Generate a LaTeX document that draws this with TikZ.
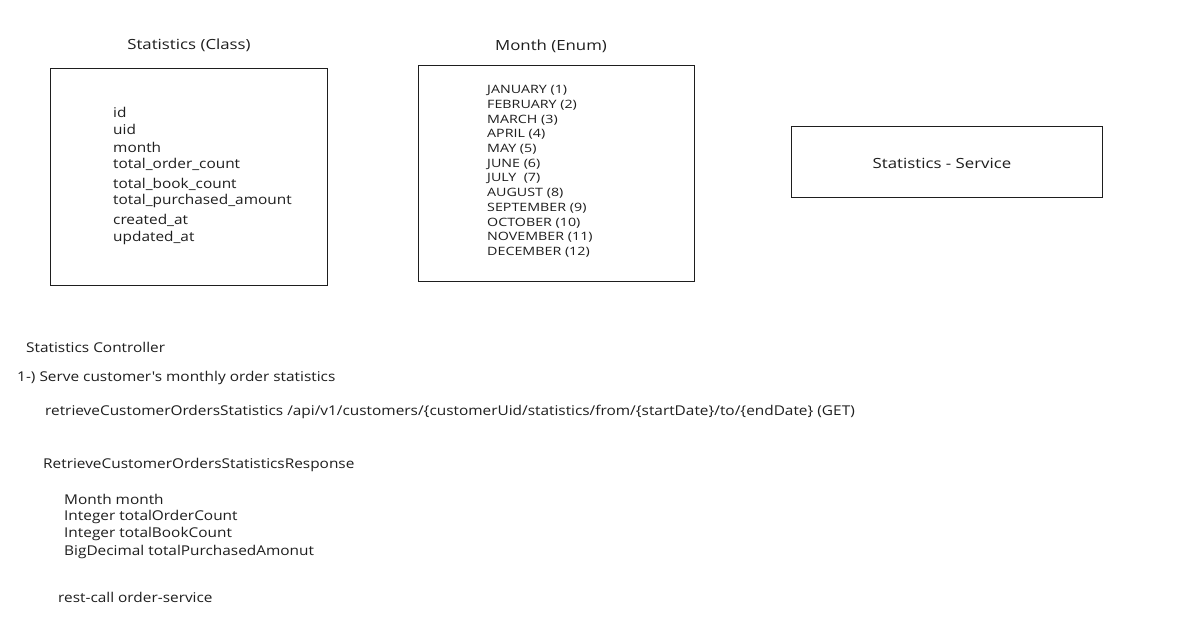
\documentclass[tikz,border=0pt]{standalone}
\usepackage{fontspec}
\setmainfont{Open Sans}
\newfontfamily\handA[FakeStretch=1.14]{Open Sans}
\newfontfamily\handB[FakeStretch=1.2]{Open Sans}
\newfontfamily\handC[FakeStretch=1.24]{Open Sans}
\definecolor{ink}{HTML}{1E1E1E}
\begin{document}
\begin{tikzpicture}[x=1pt,y=-1pt,
  box/.style={draw=ink,line width=0.9pt},
  txt/.style={anchor=west,inner sep=0pt,text=ink,font=\handA\fontsize{13.5}{15}\selectfont},
  small/.style={anchor=west,inner sep=0pt,text=ink,font=\handC\fontsize{11.5}{13}\selectfont},
  ttl/.style={inner sep=0pt,text=ink,font=\handB\fontsize{14}{16}\selectfont}]
\useasboundingbox (0,0) rectangle (1197,633);
\fill[white] (0,0) rectangle (1197,633);
% Statistics class
\node[ttl] (t1) at (189,45) {Statistics (Class)};
\draw[box] (50,68) rectangle (327,285);
\foreach \n/\y/\s in {f1/112/id,f2/129/uid,f3/147/month,f4/164/total\_order\_count,f5/184/total\_book\_count,f6/201/total\_purchased\_amount,f7/220/created\_at,f8/238/updated\_at}
  \node[txt] (\n) at (113,\y) {\s};
% Month enum
\node[ttl] (t2) at (551,46) {Month (Enum)};
\draw[box] (418,65) rectangle (694,281);
\foreach \n/\y/\s in {m1/90.5/JANUARY (1),m2/105.2/FEBRUARY (2),m3/119.9/MARCH (3),m4/134.6/APRIL (4),m5/149.3/MAY (5),m6/164/JUNE (6),m7/178.7/JULY\ \ (7),m8/193.4/AUGUST (8),m9/208.1/SEPTEMBER (9),m10/222.8/OCTOBER (10),m11/237.5/NOVEMBER (11),m12/252.2/DECEMBER (12)}
  \node[small] (\n) at (487,\y) {\s};
% Service
\draw[box] (791,126) rectangle (1102,197);
\node[ttl] (svc) at (942,163) {Statistics - Service};
% Controller text
\node[txt] (c1) at (26,347) {Statistics Controller};
\node[txt] (c2) at (17,378) {1-) Serve customer's monthly order statistics};
\node[txt] (c3) at (45,412) {retrieveCustomerOrdersStatistics /api/v1/customers/\{customerUid/statistics/from/\{startDate\}/to/\{endDate\} (GET)};
\node[txt] (c4) at (43,465) {RetrieveCustomerOrdersStatisticsResponse};
\node[txt] (r1) at (64,499) {Month month};
\node[txt] (r2) at (64,516.5) {Integer totalOrderCount};
\node[txt] (r3) at (64,534) {Integer totalBookCount};
\node[txt] (r4) at (64,551.5) {BigDecimal totalPurchasedAmonut};
\node[txt] (c5) at (58,597) {rest-call order-service};
\end{tikzpicture}
\end{document}
